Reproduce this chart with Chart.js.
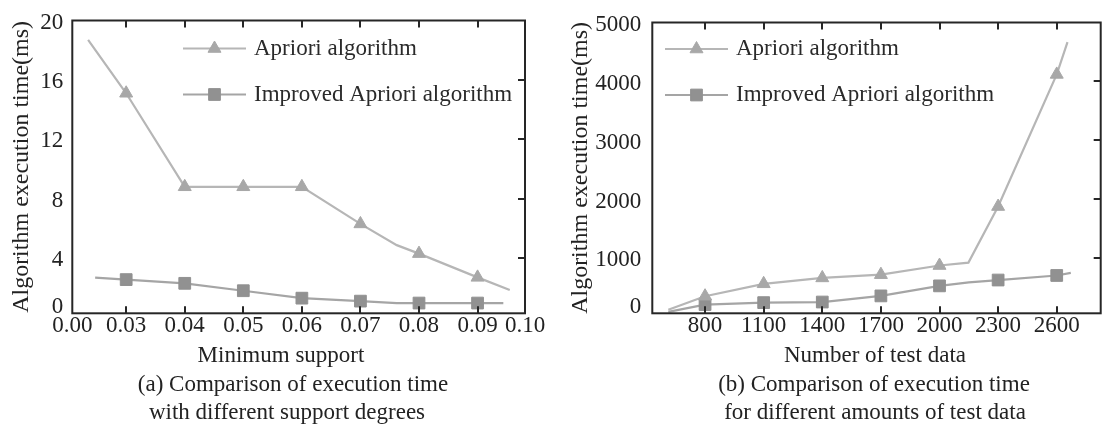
<!DOCTYPE html>
<html>
<head>
<meta charset="utf-8">
<script src="https://cdn.jsdelivr.net/npm/chart.js@4/dist/chart.umd.min.js"></script>
<style>
html,body{margin:0;padding:0;background:#fff;}
#wrap{position:relative;width:1106px;height:428px;overflow:hidden;background:#fff;}
canvas{position:absolute;top:0;}
#ca{left:0;}
#cb{left:553px;}
</style>
</head>
<body>
<div id="wrap">
<canvas id="ca" width="553" height="428"></canvas>
<canvas id="cb" width="553" height="428"></canvas>
</div>
<script>
// ---------- data ----------
const seriesNames = ['Apriori algorithm', 'Improved Apriori algorithm'];

// panel (a): execution time vs minimum support
const supportValues = [0.03, 0.04, 0.05, 0.06, 0.07, 0.08, 0.09];
const supportTickLabels = ['0.00', '0.03', '0.04', '0.05', '0.06', '0.07', '0.08', '0.09', '0.10'];
const aprioriA = [15.1, 8.8, 8.8, 8.8, 6.3, 4.3, 2.7];
const improvedA = [2.55, 2.3, 1.8, 1.3, 1.1, 0.97, 0.97];
// unmarked points where the drawn curves start, bend and end: [x, y]
const aprioriAPath = [[0.0235, 18.7], [0.0762, 4.87], [0.0955, 1.85]];
const improvedAPath = [[0.0247, 2.68], [0.0762, 0.97], [0.0944, 0.97]];
const yTicksA = [0, 4, 8, 12, 16, 20];

// panel (b): execution time vs number of test data
const testCounts = [800, 1100, 1400, 1700, 2000, 2300, 2600];
const testTickLabels = ['800', '1100', '1400', '1700', '2000', '2300', '2600'];
const aprioriB = [360, 570, 670, 725, 880, 1880, 4120];
const improvedB = [218, 251, 261, 365, 535, 634, 711];
const aprioriBPath = [[612, 130], [2148, 929], [2655, 4668]];
const improvedBPath = [[612, 95], [2150, 595], [2672, 754]];
const yTicksB = [0, 1000, 2000, 3000, 4000, 5000];

// ---------- helpers ----------
const FONT = "'Liberation Serif', 'Times New Roman', serif";
const TEXT = '#222';
const C_APR_LINE = '#b6b6b6', C_APR_PT = '#a8a8a8';
const C_IMP_LINE = '#a5a5a5', C_IMP_PT = '#919191';

function build(xs, ys, extra) {
  const pts = xs.map((x, i) => ({x: x, y: ys[i], marked: true}));
  extra.forEach(p => pts.push({x: p[0], y: p[1], marked: false}));
  pts.sort((a, b) => a.x - b.x);
  return pts;
}

const framePlugin = {
  id: 'frame',
  afterDatasetsDraw(chart, args, opts) {
    const ctx = chart.ctx;
    const {left, right, top, bottom} = chart.chartArea;
    const xs = chart.scales.x, ys = chart.scales.y;
    ctx.save();
    ctx.strokeStyle = '#262626';
    ctx.lineWidth = 2;
    ctx.beginPath();
    opts.xTicks.forEach(v => {
      const px = Math.round(xs.getPixelForValue(v));
      ctx.moveTo(px, bottom); ctx.lineTo(px, bottom - 7);
      ctx.moveTo(px, top); ctx.lineTo(px, top + 7);
    });
    opts.yTicks.forEach(v => {
      const py = Math.round(ys.getPixelForValue(v));
      ctx.moveTo(right, py); ctx.lineTo(right - 7, py);
    });
    ctx.stroke();
    ctx.strokeRect(left, top, right - left, bottom - top);
    ctx.restore();
  }
};

const legendPlugin = {
  id: 'lineLegend',
  afterDraw(chart, args, opts) {
    const ctx = chart.ctx;
    chart.data.datasets.forEach((ds, i) => {
      const y = opts.y[i];
      ctx.save();
      ctx.strokeStyle = ds.borderColor;
      ctx.lineWidth = 2;
      ctx.beginPath();
      ctx.moveTo(opts.x0, y); ctx.lineTo(opts.x1, y);
      ctx.stroke();
      ctx.fillStyle = ds.pointBackgroundColor;
      ctx.strokeStyle = ds.pointBorderColor;
      ctx.lineWidth = 1;
      Chart.helpers.drawPoint(ctx, {pointStyle: ds.pointStyle, radius: ds.legendRadius, borderWidth: 1, rotation: 0}, (opts.x0 + opts.x1) / 2, y);
      ctx.fillStyle = '#2a2a2a';
      ctx.font = '23px ' + FONT;
      ctx.textBaseline = 'middle';
      ctx.textAlign = 'left';
      ctx.fillText(ds.label, opts.tx, y);
      ctx.restore();
    });
  }
};

// x-axis title and figure caption lines under each panel
const captionPlugin = {
  id: 'captions',
  afterDraw(chart, args, opts) {
    const ctx = chart.ctx;
    ctx.save();
    ctx.fillStyle = TEXT;
    ctx.font = '23px ' + FONT;
    ctx.textBaseline = 'middle';
    ctx.textAlign = 'center';
    opts.lines.forEach(l => ctx.fillText(l[0], l[1], l[2]));
    ctx.restore();
  }
};

function makePanel(id, p) {
  const fontTick = {family: FONT, size: 23, lineHeight: 1};
  const fontTitle = {family: FONT, size: 24, lineHeight: 1.2, weight: 'normal'};
  return new Chart(document.getElementById(id), {
    type: 'line',
    data: {
      datasets: [
        {
          label: seriesNames[0],
          data: build(p.xVals, p.apr, p.aprPath),
          borderColor: C_APR_LINE, borderWidth: 2.2,
          pointStyle: 'triangle', pointBackgroundColor: C_APR_PT, pointBorderColor: C_APR_PT,
          pointBorderWidth: 1, legendRadius: 7.5,
          pointRadius: c => (c.raw && c.raw.marked) ? 7.5 : 0,
          tension: 0, fill: false
        },
        {
          label: seriesNames[1],
          data: build(p.xVals, p.imp, p.impPath),
          borderColor: C_IMP_LINE, borderWidth: 2.2,
          pointStyle: 'rect', pointBackgroundColor: C_IMP_PT, pointBorderColor: C_IMP_PT,
          pointBorderWidth: 1, legendRadius: 8.3,
          pointRadius: c => (c.raw && c.raw.marked) ? 8.3 : 0,
          tension: 0, fill: false
        }
      ]
    },
    options: {
      responsive: false,
      animation: false,
      devicePixelRatio: 1,
      layout: {padding: {top: 13, right: p.padRight, bottom: 0, left: 0}},
      scales: {
        x: {
          type: 'linear', min: p.xMin, max: p.xMax,
          afterBuildTicks: s => { s.ticks = p.xTickVals(s).map(v => ({value: v})); },
          afterFit: s => { s.height = 114.7; },
          ticks: {autoSkip: false, maxRotation: 0, font: fontTick, color: TEXT, padding: 1,
                  callback: (v, i) => p.xTickLabels[i]},
          grid: {display: false, drawTicks: false},
          border: {display: false},
          title: {display: false}
        },
        y: {
          type: 'linear', min: p.yMin, max: p.yMax,
          afterBuildTicks: s => {
            s.ticks = p.yTicks.map((v, i) => ({value: i === 0 ? s.min + (s.max - s.min) * 0.027 : v}));
          },
          afterFit: s => { s.width = p.yWidth; },
          ticks: {autoSkip: false, font: fontTick, color: TEXT, padding: p.yPad, labelOffset: 2,
                  callback: (v, i) => String(p.yTicks[i])},
          grid: {display: false, drawTicks: false},
          border: {display: false},
          title: {display: true, text: 'Algorithm execution time(ms)', font: fontTitle, color: TEXT,
                  padding: {top: p.yTitlePad, bottom: 0}}
        }
      },
      plugins: {
        legend: {display: false},
        tooltip: {enabled: false},
        title: {display: false},
        frame: {xTicks: p.xVals, yTicks: p.yTicks.slice(1, -1)},
        lineLegend: p.legend,
        captions: {lines: p.captions}
      }
    },
    plugins: [framePlugin, legendPlugin, captionPlugin]
  });
}

makePanel('ca', {
  xVals: supportValues, apr: aprioriA, imp: improvedA, aprPath: aprioriAPath, impPath: improvedAPath,
  xMin: 0.0208, xMax: 0.0981,
  xTickVals: s => [s.min].concat(supportValues, [s.max]),
  xTickLabels: supportTickLabels,
  yMin: 0.28, yMax: 20, yTicks: yTicksA,
  yWidth: 72.3, yPad: 9, yTitlePad: 7.3, padRight: 28,
  captions: [['Minimum support', 281, 356],
             ['(a) Comparison of execution time', 293, 385],
             ['with different support degrees', 287, 413]],
  legend: {x0: 183, x1: 246, tx: 254, y: [48.5, 94.5]}
});

makePanel('cb', {
  xVals: testCounts, apr: aprioriB, imp: improvedB, aprPath: aprioriBPath, impPath: improvedBPath,
  xMin: 530, xMax: 2825,
  xTickVals: s => testCounts.slice(),
  xTickLabels: testTickLabels,
  yMin: 70, yMax: 5000, yTicks: yTicksB,
  yWidth: 99.3, yPad: 11, yTitlePad: 13.3, padRight: 5.3,
  captions: [['Number of test data', 322, 356],
             ['(b) Comparison of execution time', 321, 385],
             ['for different amounts of test data', 322, 413]],
  legend: {x0: 112, x1: 175, tx: 183, y: [49, 95]}
});
</script>
</body>
</html>
